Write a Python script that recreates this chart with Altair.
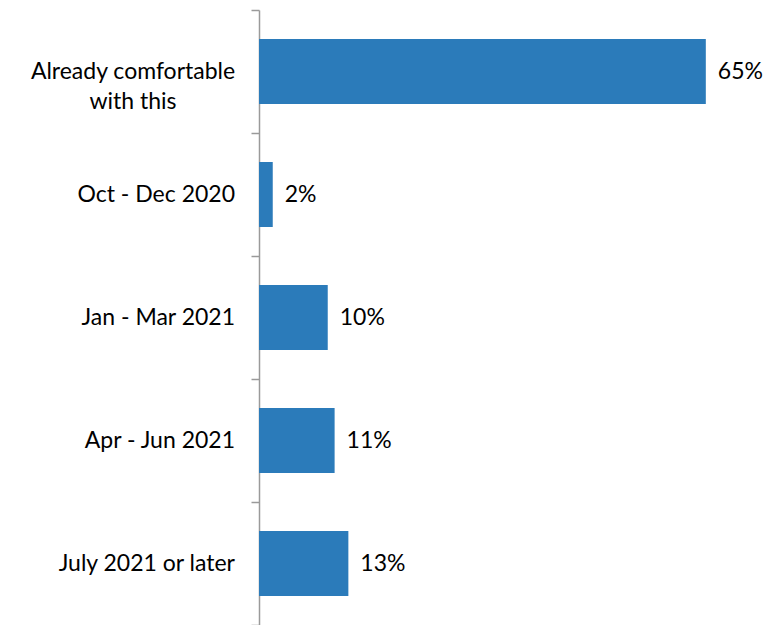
import altair as alt
import pandas as pd

categories = ["Already comfortable\nwith this", "Oct - Dec 2020", "Jan - Mar 2021", "Apr - Jun 2021", "July 2021 or later"]
values = [65, 2, 10, 11, 13]
labels = ["65%", "2%", "10%", "11%", "13%"]

df = pd.DataFrame({"cat": categories, "val": values, "lab": labels})

FONT = "Lato"
FS = 23

y = alt.Y("cat:N", sort=categories, title=None,
          scale=alt.Scale(paddingInner=0, paddingOuter=0),
          axis=alt.Axis(tickBand="extent", tickSize=8, tickColor="#9a9a9a", domainColor="#9a9a9a",
                        domainWidth=1.5, tickWidth=1.5, labels=False))
x = alt.X("val:Q", scale=alt.Scale(domain=[0, 73.9]), axis=None)
y2 = alt.Y("cat:N", sort=categories)

base = alt.Chart(df)
bars = base.mark_bar(color="#2B7BBA", height={"band": 0.53}).encode(x=x, y=y)
text = base.mark_text(align="left", dx=12, font=FONT, fontSize=FS, color="#000000").encode(
    x=x, y=y2, text="lab:N")

multi = "indexof(datum.cat, '\\n') >= 0"
cat_single = base.transform_filter("!(" + multi + ")").mark_text(
    align="right", baseline="middle", font=FONT, fontSize=FS, color="#000000").encode(
    x=alt.value(-24), y=y2, text="cat:N")
cat_multi = base.transform_filter(multi).mark_text(
    align="center", baseline="middle", font=FONT, fontSize=FS, color="#000000",
    lineBreak="\n", lineHeight=30).encode(
    x=alt.value(-126), y=y2, text="cat:N")

chart = (bars + text + cat_single + cat_multi).properties(
    width=508, height=615,
    background="white",
    autosize=alt.AutoSizeParams(type="none"),
    padding={"left": 259, "top": 10, "right": 0, "bottom": 0},
).configure_view(stroke=None)

chart.save("out.html", embed_options={"renderer": "svg", "actions": False})
